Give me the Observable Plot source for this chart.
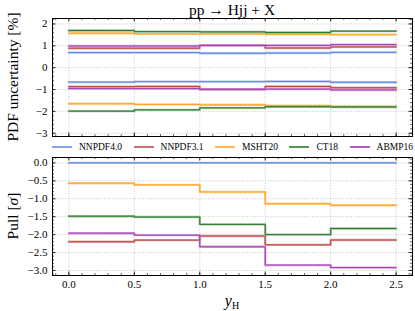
<!DOCTYPE html>
<html><head><meta charset="utf-8">
<script src="https://cdn.jsdelivr.net/npm/d3@7"></script>
<script src="https://cdn.jsdelivr.net/npm/@observablehq/plot@0.6"></script>
<style>
body{margin:0;background:#fff;}
#wrap{position:relative;width:415px;height:311px;font-family:"Liberation Serif",serif;overflow:hidden;background:#fff;}
#wrap > *{position:absolute;}
.rot{transform:translate(-50%,-50%) rotate(-90deg);white-space:nowrap;font-size:15.5px;}
#title{left:232px;top:10px;transform:translate(-50%,-50%);font-size:15.5px;white-space:nowrap;}
#xlab{left:232px;top:301px;transform:translate(-50%,-50%);font-size:16px;white-space:nowrap;}
#xlab sub{font-size:10px;vertical-align:-3px;}
#legend{left:52px;top:141px;width:361px;height:12px;display:flex;justify-content:space-between;align-items:center;font-size:9.5px;}
#legend .it{display:flex;align-items:center;gap:7px;}
#legend .sw{display:block;width:20px;height:1.6px;}
</style></head><body><div id="wrap"></div>
<script>
// ---- data ----
const binEdges = [0, 0.5, 1.0, 1.5, 2.0, 2.5];
const pdfNames = ["NNPDF4.0", "NNPDF3.1", "MSHT20", "CT18", "ABMP16"];
const lineColors = ["#4f7be0", "#b23434", "#ff9a10", "#1e6e1e", "#9a2fae"];
const bandColors = ["#98b2f0", "#d98a8a", "#ffc46a", "#7db07d", "#c888d4"];
const legendColors = ["#86a4ee", "#cf7272", "#ffb84a", "#4e9a4e", "#b55ac4"];

// PDF uncertainty [%], upper / lower edge per y_H bin
const uncUpNNPDF40 = [0.69, 0.69, 0.66, 0.67, 0.70];
const uncDnNNPDF40 = [-0.66, -0.64, -0.64, -0.63, -0.67];
const uncUpNNPDF31 = [0.89, 0.89, 1.02, 0.90, 0.95];
const uncDnNNPDF31 = [-0.87, -0.86, -0.99, -0.86, -0.92];
const uncUpMSHT20 = [1.575, 1.545, 1.55, 1.53, 1.51];
const uncDnMSHT20 = [-1.65, -1.68, -1.70, -1.74, -1.78];
const uncUpCT18 = [1.70, 1.65, 1.64, 1.61, 1.67];
const uncDnCT18 = [-1.99, -1.93, -1.84, -1.79, -1.80];
const uncUpABMP16 = [0.99, 0.99, 1.02, 1.02, 1.055];
const uncDnABMP16 = [-0.96, -0.96, -0.99, -0.98, -1.02];

// Pull [sigma] w.r.t. NNPDF4.0
const pullNNPDF40 = [0, 0, 0, 0, 0];
const pullNNPDF31 = [-2.20, -2.154, -2.04, -2.285, -2.15];
const pullMSHT20 = [-0.566, -0.613, -0.81, -1.14, -1.18];
const pullCT18 = [-1.486, -1.51, -1.715, -2.0, -1.83];
const pullABMP16 = [-1.96, -2.015, -2.34, -2.85, -2.92];

const xTicks = [0, 0.5, 1.0, 1.5, 2.0, 2.5];
const yTicksTop = [-3, -2, -1, 0, 1, 2];
const yTicksBottom = [-3.0, -2.5, -2.0, -1.5, -1.0, -0.5, 0.0];

const uncUp = [uncUpNNPDF40, uncUpNNPDF31, uncUpMSHT20, uncUpCT18, uncUpABMP16];
const uncDn = [uncDnNNPDF40, uncDnNNPDF31, uncDnMSHT20, uncDnCT18, uncDnABMP16];
const pulls = [pullNNPDF40, pullNNPDF31, pullMSHT20, pullCT18, pullABMP16];

// ---- helpers ----
const stepRows = vals => binEdges.map((x, j) => ({x, y: vals[Math.min(j, vals.length - 1)]}));
const minorTicks = (lo, hi, step) => {
  const out = [];
  for (let i = Math.ceil(lo / step - 1e-9); i <= Math.floor(hi / step + 1e-9); i++) out.push(+(i * step).toFixed(4));
  return out;
};
const W = 415, ML = 52, MR = 3;
const xDomain = [-0.125, 2.625];
const FW = W - ML - MR;

function panel({series, yDomain, yMajor, yMinorStep, height, mt, mb, showX, fmtY}) {
  const FH = height - mt - mb;
  const xMinor = minorTicks(xDomain[0], xDomain[1], 0.1);
  const yMinor = minorTicks(yDomain[0], yDomain[1], yMinorStep);
  const tickMarks = (xs, ys, len, sw) => [
    Plot.tickX(xs, {x: d => d, insetTop: FH - len, stroke: "black", strokeWidth: sw}),
    Plot.tickX(xs, {x: d => d, insetBottom: FH - len, stroke: "black", strokeWidth: sw}),
    Plot.tickY(ys, {y: d => d, insetRight: FW - len, stroke: "black", strokeWidth: sw}),
    Plot.tickY(ys, {y: d => d, insetLeft: FW - len, stroke: "black", strokeWidth: sw})
  ];
  const lines = [];
  series.forEach((s, i) => {
    s.forEach(vals => {
      lines.push(Plot.line(stepRows(vals), {x: "x", y: "y", curve: "step-after", stroke: bandColors[i], strokeWidth: 2.4, strokeOpacity: 0.75}));
      lines.push(Plot.line(stepRows(vals), {x: "x", y: "y", curve: "step-after", stroke: lineColors[i], strokeWidth: 0.9}));
    });
  });
  return Plot.plot({
    width: W, height, marginTop: mt, marginBottom: mb, marginLeft: ML, marginRight: MR,
    style: {fontFamily: "'Liberation Serif', serif", fontSize: "11px", color: "black", background: "transparent", overflow: "visible"},
    x: {domain: xDomain, axis: null},
    y: {domain: yDomain, axis: null},
    marks: [
      Plot.gridX(xTicks, {stroke: "#b8b8b8", strokeOpacity: 1, strokeDasharray: "1,1.6", strokeWidth: 0.8}),
      Plot.gridY(yMajor, {stroke: "#b8b8b8", strokeOpacity: 1, strokeDasharray: "1,1.6", strokeWidth: 0.8}),
      ...lines,
      ...tickMarks(xMinor, yMinor, 2, 0.6),
      ...tickMarks(xTicks, yMajor, 3.5, 0.8),
      Plot.axisY(yMajor, {tickSize: 0, tickPadding: 5, tickFormat: fmtY, label: null}),
      ...(showX ? [Plot.axisX(xTicks, {tickSize: 0, tickPadding: 5, tickFormat: d3.format(".1f"), label: null})] : []),
      Plot.frame({stroke: "black", strokeWidth: 1})
    ]
  });
}

const wrap = document.getElementById("wrap");

const topPanel = panel({
  series: pdfNames.map((_, i) => [uncUp[i], uncDn[i]]),
  yDomain: [-3.15, 2.25], yMajor: yTicksTop, yMinorStep: 0.2,
  height: 140, mt: 18, mb: 4, showX: false, fmtY: d3.format("d")
});
topPanel.style.left = "0px"; topPanel.style.top = "0px";
wrap.appendChild(topPanel);

const bottomPanel = panel({
  series: pdfNames.map((_, i) => [pulls[i]]),
  yDomain: [-3.14, 0.15], yMajor: yTicksBottom, yMinorStep: 0.1,
  height: 171, mt: 17, mb: 36, showX: true, fmtY: d3.format(".1f")
});
bottomPanel.style.left = "0px"; bottomPanel.style.top = "140px";
wrap.appendChild(bottomPanel);

const addDiv = (html, cls, id, css) => {
  const d = document.createElement("div");
  if (cls) d.className = cls;
  if (id) d.id = id;
  d.innerHTML = html;
  if (css) Object.assign(d.style, css);
  wrap.appendChild(d);
  return d;
};
addDiv("pp → Hjj + X", null, "title");
addDiv("PDF uncertainty [%]", "rot", null, {left: "13px", top: "77px"});
addDiv("Pull [<i>σ</i>]", "rot", null, {left: "13px", top: "216px"});
addDiv("<i>y</i><sub>H</sub>", null, "xlab");
const leg = addDiv("", null, "legend");
pdfNames.forEach((n, i) => {
  const it = document.createElement("div");
  it.className = "it";
  it.innerHTML = `<span class="sw" style="background:${legendColors[i]}"></span><span>${n}</span>`;
  leg.appendChild(it);
});
</script>
</body></html>
